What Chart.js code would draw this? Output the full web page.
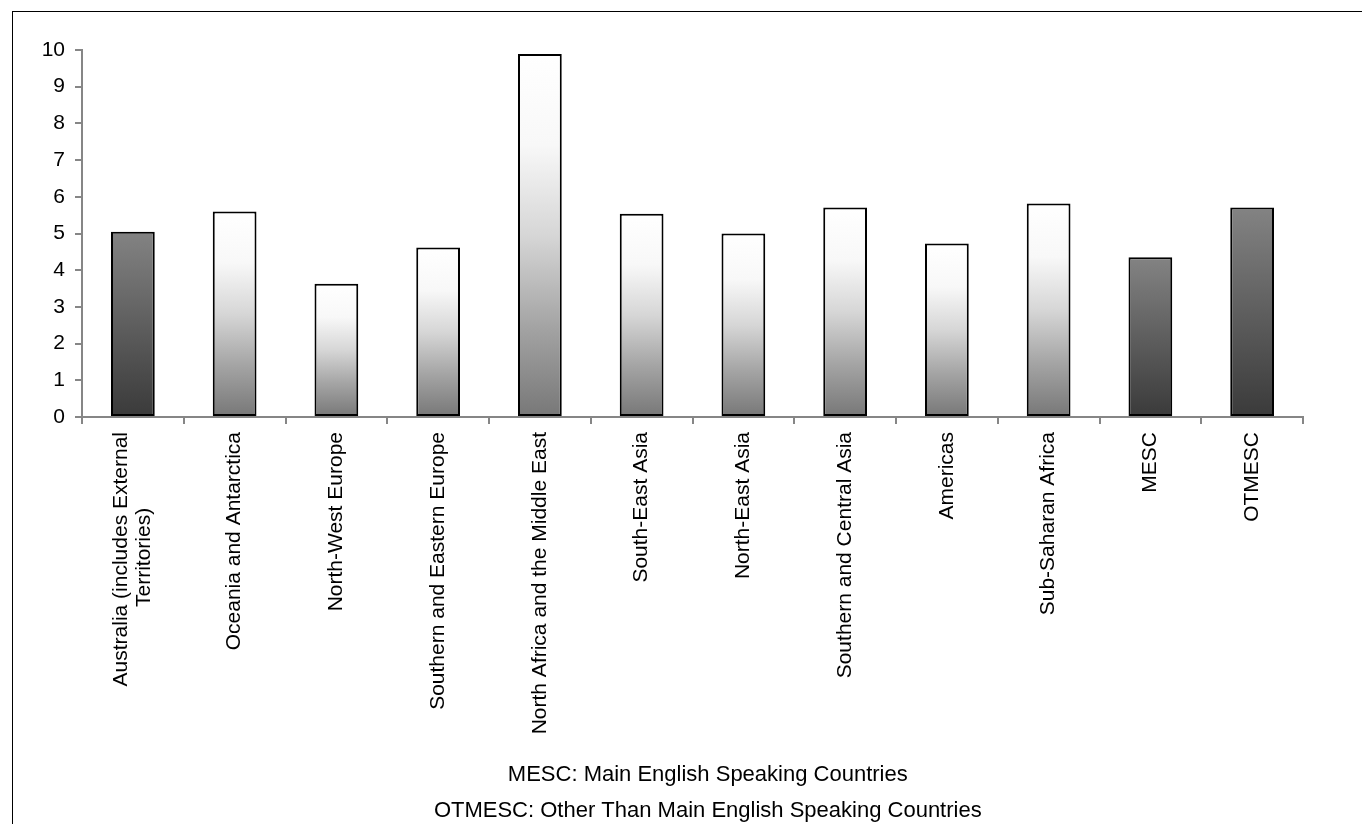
<!DOCTYPE html>
<html>
<head>
<meta charset="utf-8">
<script src="https://cdn.jsdelivr.net/npm/chart.js@4.4.0/dist/chart.umd.min.js"></script>
<style>
    html, body { margin: 0; padding: 0; background: #fff; overflow: hidden; }
    #frame {
        position: absolute;
        left: 12px;
        top: 11px;
        border-left: 1px solid #000;
        border-top: 1px solid #000;
    }
    #regionChart { display: block; }
</style>
</head>
<body>
<div id="frame">
    <canvas id="regionChart" width="1390" height="817"></canvas>
</div>
<script>
const regions = [
    ['Australia (includes External', 'Territories)' + '\u00a0'.repeat(13)],
    'Oceania and Antarctica',
    'North-West Europe',
    'Southern and Eastern Europe',
    'North Africa and the Middle East',
    'South-East Asia',
    'North-East Asia',
    'Southern and Central Asia',
    'Americas',
    'Sub-Saharan Africa',
    'MESC',
    'OTMESC'
];
const values = [5.05, 5.6, 3.63, 4.62, 9.89, 5.54, 5.0, 5.71, 4.73, 5.82, 4.35, 5.71];
// which bars use the dark shading
const shades = ['dark', 'light', 'light', 'light', 'light', 'light', 'light', 'light', 'light', 'light', 'dark', 'dark'];
const yTicks = [0, 1, 2, 3, 4, 5, 6, 7, 8, 9, 10];
const footnote = [
    'MESC: Main English Speaking Countries',
    'OTMESC: Other Than Main English Speaking Countries'
];

const axisGrey = '#868686';
const fontFamily = '"Liberation Sans", Arial, sans-serif';
const labelLineHeight = 23;

function barGradient(context) {
    const chart = context.chart;
    if (!chart.chartArea) {
        return '#999';
    }
    const i = context.dataIndex;
    const y = chart.scales.y;
    const top = y.getPixelForValue(values[i]);
    const bottom = y.getPixelForValue(0);
    const g = chart.ctx.createLinearGradient(0, top, 0, bottom);
    if (shades[i] === 'dark') {
        g.addColorStop(0, '#838383');
        g.addColorStop(1, '#3a3a3a');
    } else {
        g.addColorStop(0, '#ffffff');
        g.addColorStop(0.25, '#f8f8f8');
        g.addColorStop(0.5, '#d6d6d6');
        g.addColorStop(0.75, '#a4a4a4');
        g.addColorStop(1, '#777777');
    }
    return g;
}

// two-line label: keep it centred on its bar like the single ones
const isMultiLine = (ctx) => Array.isArray(regions[ctx.index]);

document.addEventListener('DOMContentLoaded', () => {
    const ctx = document.getElementById('regionChart').getContext('2d');

    new Chart(ctx, {
        type: 'bar',
        data: {
            labels: regions,
            datasets: [{
                data: values,
                backgroundColor: barGradient,
                borderColor: '#000',
                borderWidth: 2,
                borderSkipped: false,
                categoryPercentage: 1,
                barPercentage: 0.43
            }]
        },
        options: {
            responsive: false,
            animation: false,
            layout: {
                padding: { top: 38, right: 100, bottom: 0, left: 0 }
            },
            scales: {
                x: {
                    grid: {
                        offset: true,
                        drawOnChartArea: false,
                        drawTicks: true,
                        tickLength: 7,
                        color: axisGrey,
                        lineWidth: 2
                    },
                    border: { display: true, color: axisGrey, width: 2 },
                    ticks: {
                        autoSkip: false,
                        minRotation: 90,
                        maxRotation: 90,
                        padding: 8,
                        labelOffset: -labelLineHeight / 2,
                        showLabelBackdrop: (c) => !isMultiLine(c),
                        backdropColor: 'rgba(0,0,0,0)',
                        backdropPadding: 0,
                        color: '#000',
                        font: { family: fontFamily, size: 21, lineHeight: labelLineHeight + 'px' }
                    },
                    title: {
                        display: true,
                        text: footnote.map(t => '\u00a0'.repeat(5) + t),
                        color: '#000',
                        padding: { top: 0, bottom: 0 },
                        font: { family: fontFamily, size: 22, lineHeight: '36px' }
                    },
                    afterFit: (scale) => { scale.height = 412; }
                },
                y: {
                    min: 0,
                    max: 10,
                    afterBuildTicks: (scale) => {
                        scale.ticks = yTicks.map(v => ({ value: v }));
                    },
                    grid: {
                        drawOnChartArea: false,
                        drawTicks: true,
                        tickLength: 7,
                        color: axisGrey,
                        lineWidth: 2
                    },
                    border: { display: true, color: axisGrey, width: 2 },
                    ticks: {
                        padding: 10,
                        color: '#000',
                        font: { family: fontFamily, size: 21 }
                    },
                    afterFit: (scale) => { scale.width = 69; }
                }
            },
            plugins: {
                legend: { display: false },
                tooltip: { enabled: false }
            }
        }
    });
});
</script>
</body>
</html>
